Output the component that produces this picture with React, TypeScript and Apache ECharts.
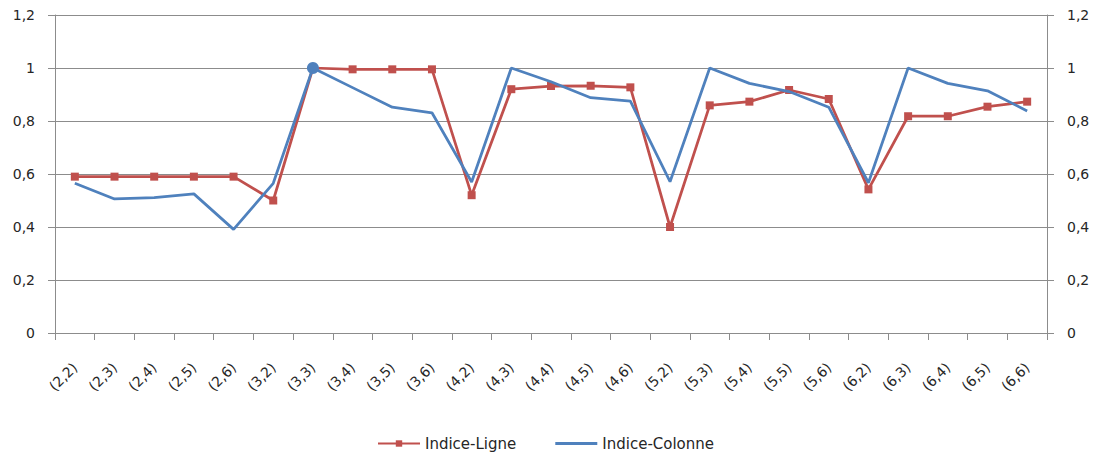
import React, { useEffect, useRef } from "react";
import * as echarts from "echarts";

const categories = [
  "(2,2)", "(2,3)", "(2,4)", "(2,5)", "(2,6)",
  "(3,2)", "(3,3)", "(3,4)", "(3,5)", "(3,6)",
  "(4,2)", "(4,3)", "(4,4)", "(4,5)", "(4,6)",
  "(5,2)", "(5,3)", "(5,4)", "(5,5)", "(5,6)",
  "(6,2)", "(6,3)", "(6,4)", "(6,5)", "(6,6)",
];

const indiceLigne = [
  0.59, 0.59, 0.59, 0.59, 0.59,
  0.5, 1.0, 0.995, 0.995, 0.995,
  0.52, 0.92, 0.932, 0.933, 0.927,
  0.4, 0.859, 0.873, 0.917, 0.883,
  0.542, 0.818, 0.818, 0.854, 0.873,
];

const indiceColonne = [
  0.565, 0.506, 0.511, 0.525, 0.391,
  0.565, 1.0, 0.926, 0.852, 0.831,
  0.57, 1.0, 0.948, 0.888, 0.875,
  0.571, 1.0, 0.942, 0.911, 0.852,
  0.567, 1.0, 0.942, 0.914, 0.838,
];

const markedColonneIndex = 6;

const seriesNames = ["Indice-Ligne", "Indice-Colonne"];

export default function App() {
  const ref = useRef<HTMLDivElement>(null);
  useEffect(() => {
    if (!ref.current) return;
    const chart = echarts.init(ref.current, undefined, { renderer: "svg" });
    const font = "'DejaVu Sans', sans-serif";
    const labelColor = "#262626";
    const axisColor = "#8c8c8c";
    const fmt = (v: number) => String(Math.round(v * 10) / 10).replace(".", ",");
    const yAxisBase = {
      type: "value" as const,
      min: 0,
      max: 1.2,
      interval: 0.2,
      axisLine: { show: true, lineStyle: { color: axisColor, width: 1 } },
      axisTick: { show: true, length: 7, lineStyle: { color: axisColor } },
      axisLabel: {
        formatter: fmt,
        color: labelColor,
        fontFamily: font,
        fontSize: 14,
        margin: 20,
      },
    };
    chart.setOption({
      animation: false,
      backgroundColor: "#ffffff",
      grid: { left: 55, right: 49, top: 15, bottom: 123, containLabel: false },
      legend: {
        left: 377,
        top: 436,
        padding: 0,
        itemWidth: 42,
        itemHeight: 8,
        itemGap: 39,
        textStyle: { color: labelColor, fontFamily: font, fontSize: 15 },
        data: [
          { name: seriesNames[0] },
          { name: seriesNames[1], icon: "path://M0,0 L42,0 L42,3 L0,3 Z" },
        ],
      },
      xAxis: {
        type: "category",
        data: categories,
        boundaryGap: true,
        axisLine: { lineStyle: { color: axisColor, width: 1 } },
        axisTick: { show: true, length: 7, lineStyle: { color: axisColor } },
        axisLabel: {
          rotate: 45,
          interval: 0,
          margin: 32,
          color: labelColor,
          fontFamily: font,
          fontSize: 14,
        },
        splitLine: { show: false },
      },
      yAxis: [
        {
          ...yAxisBase,
          position: "left",
          splitLine: { show: true, lineStyle: { color: axisColor, width: 1 } },
        },
        {
          ...yAxisBase,
          position: "right",
          splitLine: { show: false },
        },
      ],
      series: [
        {
          name: seriesNames[0],
          type: "line",
          yAxisIndex: 0,
          data: indiceLigne,
          symbol: "rect",
          symbolSize: 8,
          lineStyle: { color: "#C0504D", width: 2.75 },
          itemStyle: { color: "#C0504D" },
          z: 2,
        },
        {
          name: seriesNames[1],
          type: "line",
          yAxisIndex: 1,
          data: indiceColonne.map((v, i) =>
            i === markedColonneIndex
              ? { value: v, symbol: "circle", symbolSize: 12 }
              : v
          ),
          symbol: "none",
          lineStyle: { color: "#4F81BD", width: 2.75 },
          itemStyle: { color: "#4F81BD" },
          z: 3,
        },
      ],
    });
    return () => chart.dispose();
  }, []);
  return (
    <div
      ref={ref}
      style={{ position: "absolute", left: 0, top: 0, width: 1096, height: 456 }}
    />
  );
}
